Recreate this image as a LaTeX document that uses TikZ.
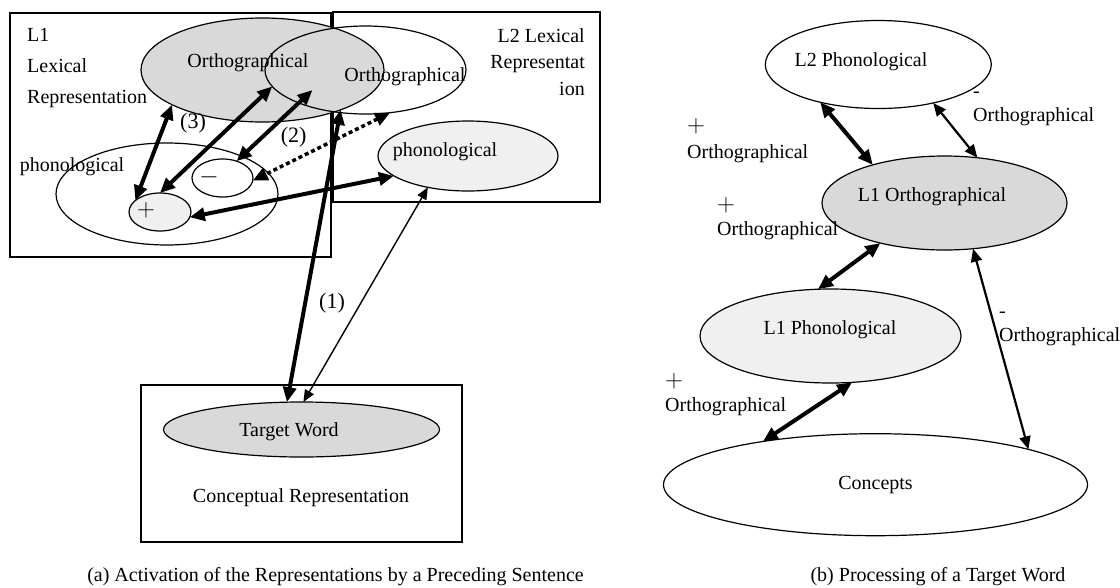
\documentclass[tikz,border=0pt]{standalone}
\usepackage{fontspec}
\setmainfont{Liberation Serif}
\usetikzlibrary{shapes.geometric, arrows.meta}
\definecolor{DGRAY}{HTML}{D9D9D9}
\definecolor{LGRAY}{HTML}{F0F0F0}
\definecolor{BLACK}{HTML}{000000}
\tikzset{
  oval/.style={draw=BLACK, ellipse, line width=1.2pt, inner sep=0pt, outer sep=0pt},
  boxline/.style={draw=BLACK, line width=1.5pt},
  boldarr/.style={line width=4pt, {Triangle[length=15pt,width=13pt]}-{Triangle[length=15pt,width=13pt]}},
  midarr/.style={line width=2.2pt, {Triangle[length=13pt,width=11pt]}-{Triangle[length=13pt,width=11pt]}},
  thinarr/.style={line width=1.4pt, {Triangle[length=12pt,width=10pt]}-{Triangle[length=12pt,width=10pt]}},
  dotarr/.style={line width=3.5pt, dash pattern=on 4pt off 3pt, {Triangle[length=15pt,width=13pt]}-{Triangle[length=15pt,width=13pt]}},
  numlbl/.style={font=\fontsize{22}{24}\selectfont},
  signlbl/.style={font=\fontsize{26}{26}\selectfont},
  sidelbl/.style={align=left, anchor=west, inner sep=0pt},
}
\newcommand{\bigplus}{{\fontsize{24}{24}\selectfont$+$}}

\begin{document}
\begin{tikzpicture}[x=1pt, y=-1pt, font=\fontsize{20}{24}\selectfont]
    \useasboundingbox (0,0) rectangle (1120,587);
    % (a) lexical boxes
    \draw[boxline] (10,13) rectangle (331,257);
    \draw[boxline] (333,12) rectangle (600,202);
    \draw[boxline] (141,385) rectangle (462,542);
    \node[sidelbl, font=\fontsize{20}{31}\selectfont] (l1lbl) at (27,68) {L1\\Lexical\\Representation};
    \node[align=right, anchor=east, inner sep=0pt, font=\fontsize{20}{26.5}\selectfont] (l2lbl) at (585,62) {L2 Lexical\\Representat\\ion};
    %
    \node[oval, fill=DGRAY, minimum width=243, minimum height=104] (l1orth) at (262.5,70) {};
    \node[oval, minimum width=201, minimum height=88] (l2orth) at (365.5,70) {};
    \node (l1orthtxt) at (248,63) {Orthographical};
    \node (l2orthtxt) at (405,77) {Orthographical};
    %
    \node[oval, minimum width=222, minimum height=102] (bigphon) at (167,194) {};
    \node (bigphontxt) at (72,167) {phonological};
    \node[oval, fill=white, minimum width=61, minimum height=38] (minus) at (222.5,178) {};
    \node[oval, fill=LGRAY, minimum width=62, minimum height=38] (plus) at (160,212) {};
    \node[signlbl] (minustxt) at (209,177) {$-$};
    \node[signlbl] (plustxt) at (146,210) {$+$};
    \node[oval, fill=LGRAY, minimum width=180, minimum height=70] (l2phon) at (468,156) {};
    \node (l2phontxt) at (445,152) {phonological};
    %
    \node[oval, fill=DGRAY, minimum width=276, minimum height=55] (target) at (301.5,429.5) {};
    \node (targettxt) at (289,432) {Target Word};
    \node (concrep) at (301,498) {Conceptual Representation};
    %
    \coordinate (otip) at (312.5,90);
    \draw[boldarr] (l1orth.201) -- (plus.155);
    \draw[boldarr] (l2orth.190) -- (plus.north);
    \draw[boldarr] (otip) -- (minus.50);
    \draw[dotarr] (l2orth.300) -- (minus.355);
    \draw[boldarr] (plus.350) -- (l2phon.195);
    \draw[boldarr] (l1orth.333) -- (target.118);
    \draw[thinarr] (l2phon.218) -- (target.86);
    \node[numlbl] (n3) at (193,123) {(3)};
    \node[numlbl] (n2) at (293.6,137) {(2)};
    \node[numlbl] (n1) at (332,303) {(1)};
    %
    \node (capa) at (335.5,577) {(a) Activation of the Representations by a Preceding Sentence};
    % (b) processing
    \node[oval, minimum width=226, minimum height=88] (l2ph) at (878.3,64.5) {};
    \node (l2phtxt) at (861,62) {L2 Phonological};
    \node[oval, fill=DGRAY, minimum width=245, minimum height=94] (l1or) at (944.5,203) {};
    \node (l1ortxt) at (932,197) {L1 Orthographical};
    \node[oval, fill=LGRAY, minimum width=261, minimum height=94] (l1ph) at (830.5,336) {};
    \node (l1phtxt) at (830,330) {L1 Phonological};
    \node[oval, minimum width=424, minimum height=102] (concepts) at (875.5,484.7) {Concepts};
    %
    \draw[boldarr] (l2ph.213) -- (l1or.152);
    \draw[midarr] (l2ph.325) -- (l1or.54);
    \draw[boldarr] (l1or.212) -- (l1ph.105);
    \draw[midarr] (l1or.302) -- (concepts.13);
    \draw[boldarr] (l1ph.295) -- (concepts.159);
    %
    \node[sidelbl] (lblA) at (687,141) {\bigplus\\[2pt]Orthographical};
    \node[sidelbl] (lblB) at (717,218.5) {\bigplus\\Orthographical};
    \node[sidelbl] (lblC) at (973,108.5) {-\\Orthographical};
    \node[sidelbl] (lblD) at (999,329) {-\\Orthographical};
    \node[sidelbl] (lblE) at (665,395) {\bigplus\\Orthographical};
    %
    \node (capb) at (938,577) {(b) Processing of a Target Word};
\end{tikzpicture}
\end{document}
